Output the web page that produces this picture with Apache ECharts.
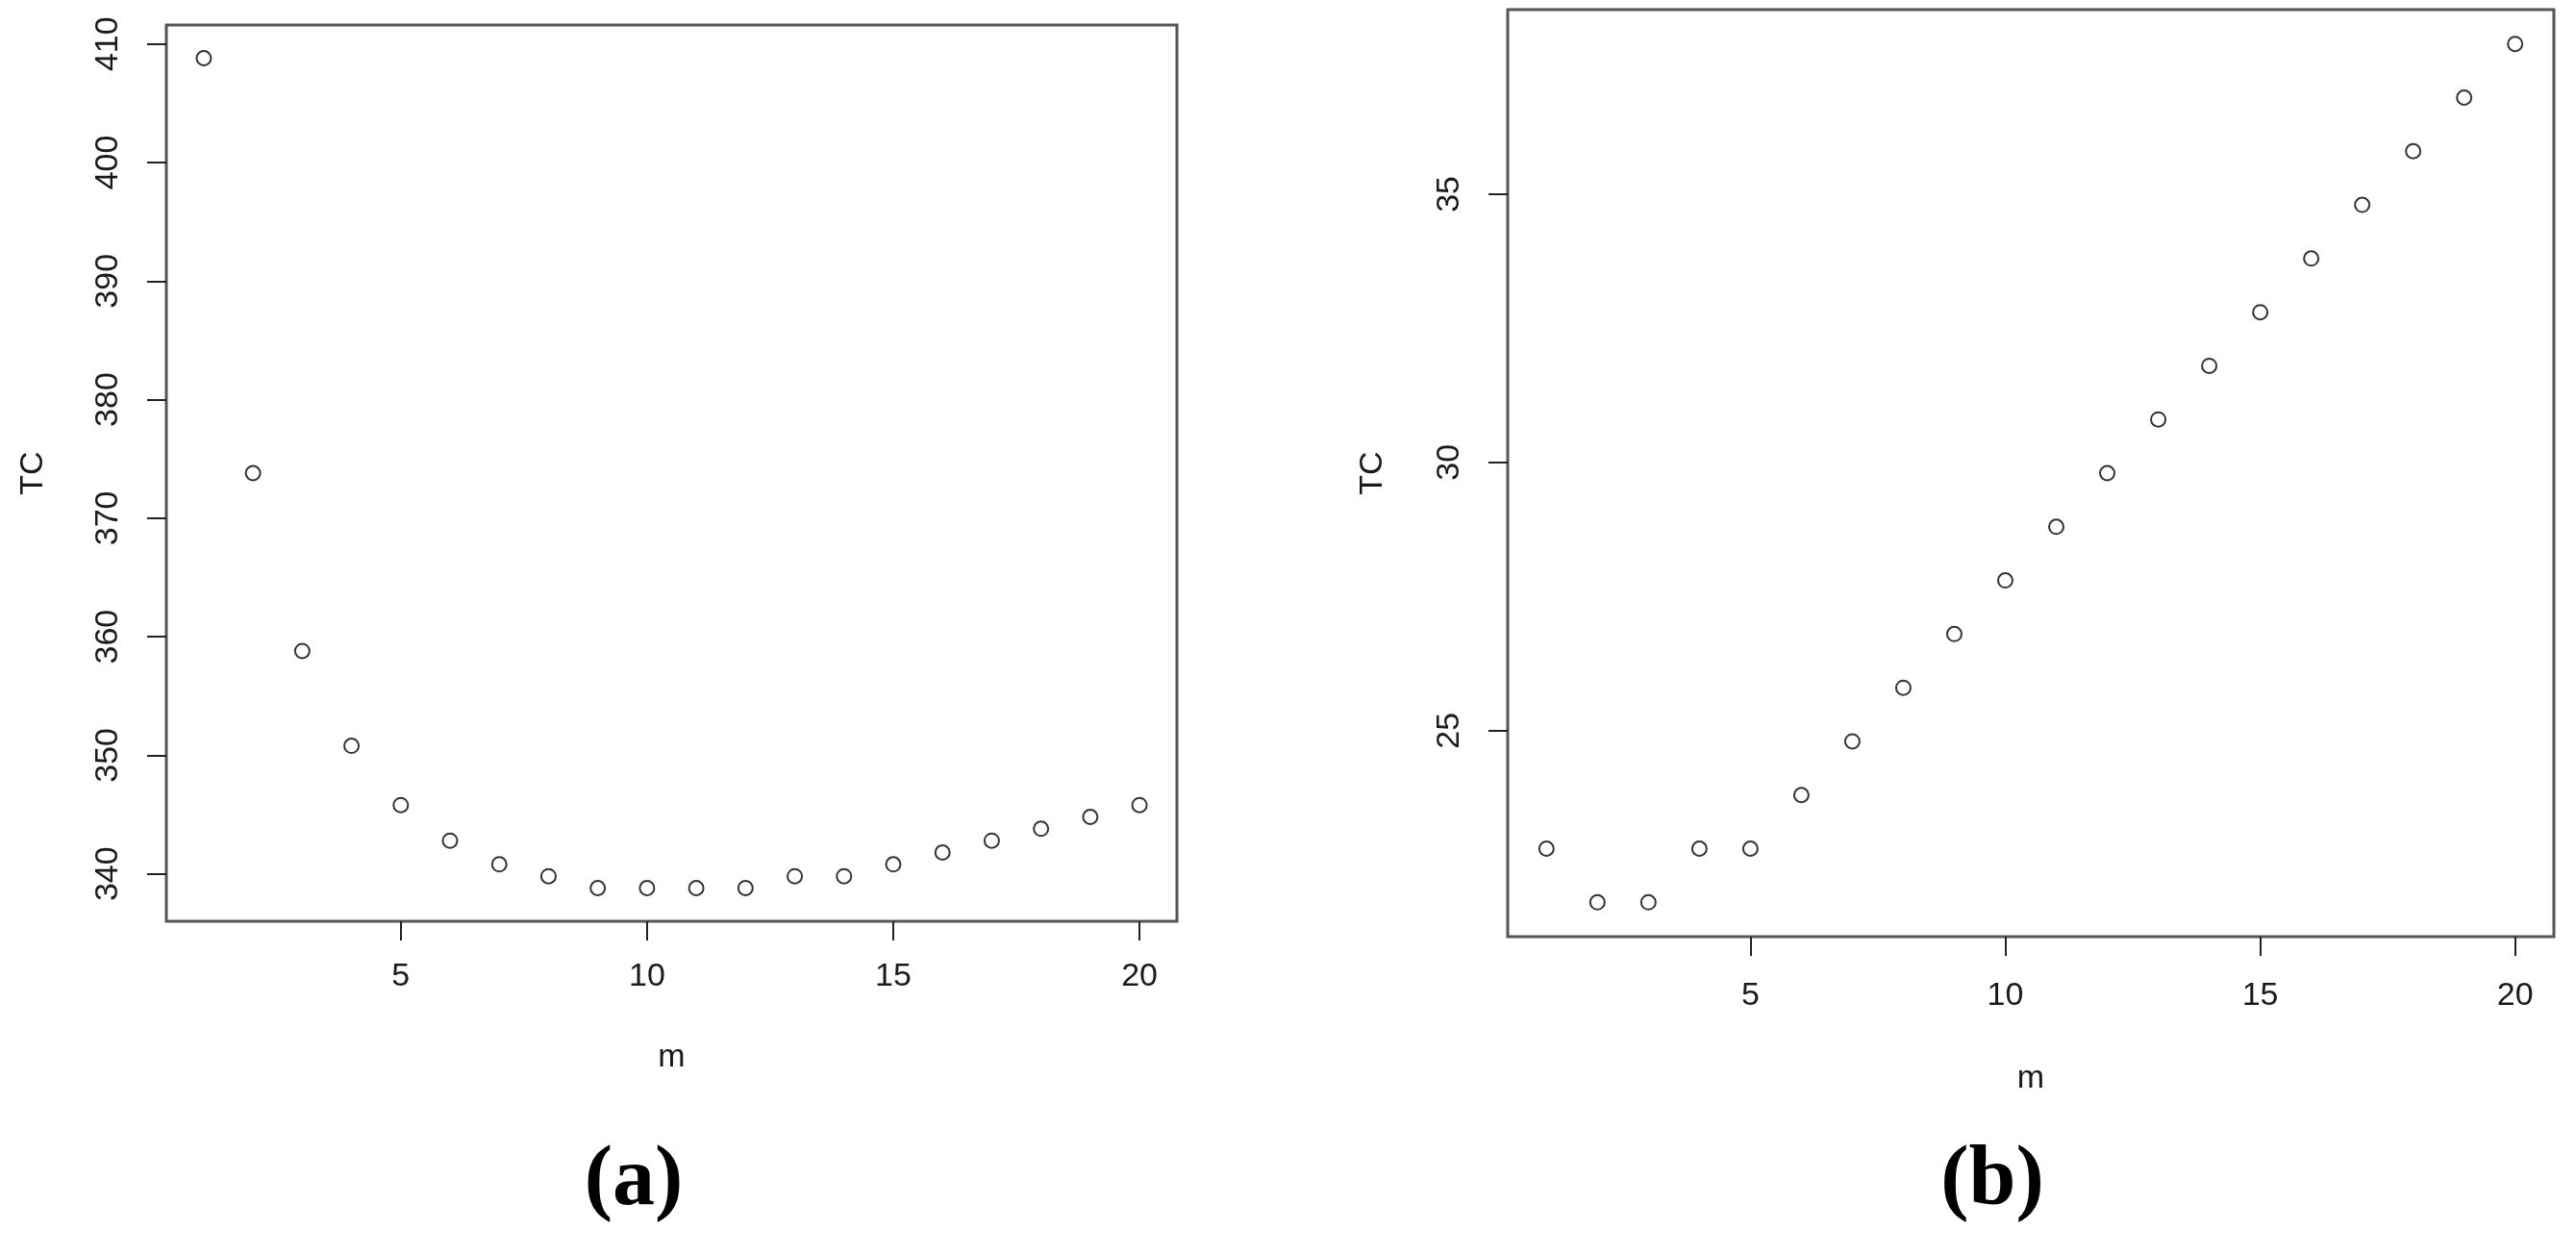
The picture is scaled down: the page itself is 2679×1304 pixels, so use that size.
<!DOCTYPE html>
<html>
<head>
<meta charset="utf-8">
<title>TC vs m</title>
<script src="https://cdn.jsdelivr.net/npm/echarts@6/dist/echarts.min.js"></script>
<style>
  html, body { margin: 0; padding: 0; background: #fff; }
  #chart { width: 2679px; height: 1304px; }
</style>
</head>
<body>
<div id="chart"></div>
<script>
// m values, shared by both panels
var mValues = [1, 2, 3, 4, 5, 6, 7, 8, 9, 10, 11, 12, 13, 14, 15, 16, 17, 18, 19, 20];

// panel (a)
var tcA = [408.8, 373.8, 358.8, 350.8, 345.8, 342.8, 340.8, 339.8, 338.8, 338.8,
           338.8, 338.8, 339.8, 339.8, 340.8, 341.8, 342.8, 343.8, 344.8, 345.8];
// panel (b)
var tcB = [22.8, 21.8, 21.8, 22.8, 22.8, 23.8, 24.8, 25.8, 26.8, 27.8,
           28.8, 29.8, 30.8, 31.8, 32.8, 33.8, 34.8, 35.8, 36.8, 37.8];

// tick labels
var xTicks = [5, 10, 15, 20];
var yTicksA = [340, 350, 360, 370, 380, 390, 400, 410];
var yTicksB = [25, 30, 35];

var textColor = '#1a1a1a';
var fontFam = '"Liberation Sans", Arial, sans-serif';

function pairs(xs, ys) {
    return xs.map(function (x, i) { return [x, ys[i]]; });
}

function xAx(idx, margin, gap) {
    return {
        type: 'value', gridIndex: idx,
        min: 0.24, max: 20.76,
        name: 'm', nameLocation: 'middle', nameGap: gap,
        nameTextStyle: { color: textColor, fontSize: 34, fontFamily: fontFam },
        axisLine: { show: false },
        splitLine: { show: false },
        axisTick: { show: true, inside: false, length: 20, customValues: xTicks,
                    lineStyle: { color: '#222', width: 2 } },
        axisLabel: { customValues: xTicks, margin: margin, color: textColor,
                     fontSize: 34, fontFamily: fontFam }
    };
}

function yAx(idx, min, max, ticks, margin, gap) {
    return {
        type: 'value', gridIndex: idx,
        min: min, max: max,
        name: 'TC', nameLocation: 'middle', nameGap: gap, nameRotate: 90,
        nameTextStyle: { color: textColor, fontSize: 34, fontFamily: fontFam },
        axisLine: { show: false },
        splitLine: { show: false },
        axisTick: { show: true, inside: false, length: 20, customValues: ticks,
                    lineStyle: { color: '#222', width: 2 } },
        axisLabel: { customValues: ticks, rotate: 90, margin: margin, color: textColor,
                     fontSize: 34, fontFamily: fontFam }
    };
}

var dotStyle = { color: '#000', borderWidth: 2 };

var chart = echarts.init(document.getElementById('chart'));
chart.setOption({
    backgroundColor: '#fff',
    animation: false,
    grid: [
        { left: 173, top: 26, width: 1051, height: 932, show: true,
          borderColor: '#555', borderWidth: 3, backgroundColor: 'transparent' },
        { left: 1568, top: 10, width: 1088, height: 964, show: true,
          borderColor: '#555', borderWidth: 3, backgroundColor: 'transparent' }
    ],
    xAxis: [xAx(0, 41, 125), xAx(1, 45, 131)],
    yAxis: [
        yAx(0, 336.0, 411.6, yTicksA, 43, 121),
        yAx(1, 21.16, 38.44, yTicksB, 43, 123)
    ],
    series: [
        { type: 'scatter', xAxisIndex: 0, yAxisIndex: 0, data: pairs(mValues, tcA),
          symbol: 'emptyCircle', symbolSize: 15, itemStyle: dotStyle },
        { type: 'scatter', xAxisIndex: 1, yAxisIndex: 1, data: pairs(mValues, tcB),
          symbol: 'emptyCircle', symbolSize: 15, itemStyle: dotStyle }
    ],
    graphic: [
        { type: 'text', x: 659, y: 1229,
          style: { text: '(a)', textAlign: 'center', textVerticalAlign: 'middle',
                   font: 'bold 88px "Liberation Serif", "Times New Roman", serif', fill: '#000' } },
        { type: 'text', x: 2072, y: 1229,
          style: { text: '(b)', textAlign: 'center', textVerticalAlign: 'middle',
                   font: 'bold 88px "Liberation Serif", "Times New Roman", serif', fill: '#000' } }
    ]
});
window.addEventListener('resize', function () { chart.resize(); });
</script>
</body>
</html>
